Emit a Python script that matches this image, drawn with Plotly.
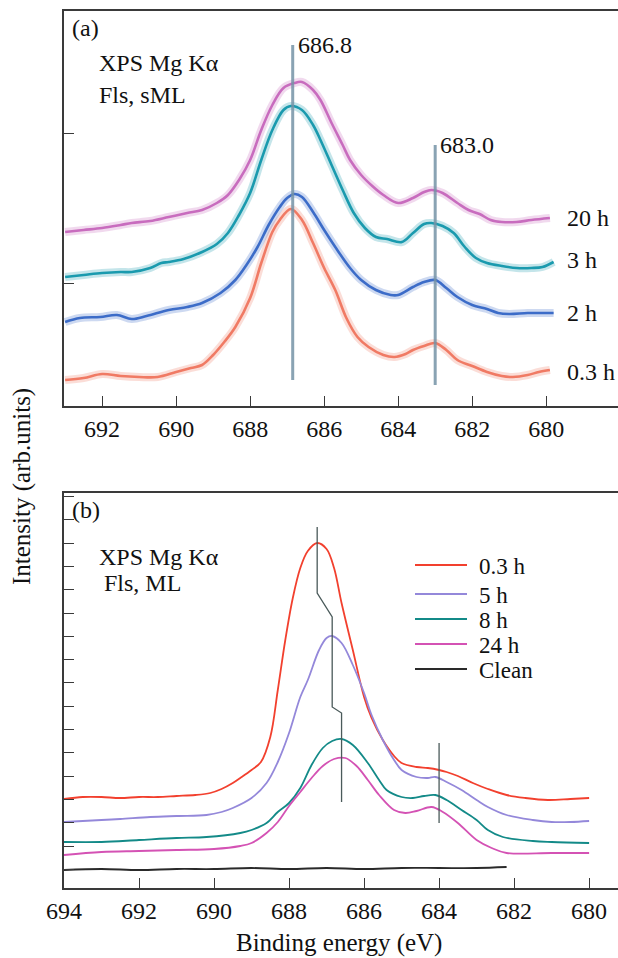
import plotly.graph_objects as go

# ---------------- Panel (a) data (Fls, sML) ----------------
ev_a_03 = [693.0, 692.5, 692.0, 691.5, 691.0, 690.5, 690.0, 689.6, 689.3, 689.0, 688.7, 688.4, 688.0, 687.7,
           687.4, 687.2, 686.9, 686.6, 686.3, 686.0, 685.7, 685.4, 685.1, 684.8, 684.4, 684.1, 683.8, 683.6,
           683.3, 683.0, 682.7, 682.4, 682.0, 681.6, 681.2, 680.9, 680.5, 680.2, 679.9]
int_a_03 = [26, 28, 32, 30, 29, 29, 34, 38, 41, 51, 64, 79, 108, 143, 174, 186, 197, 186, 163, 138, 116, 88, 69,
            59, 51, 49, 52, 56, 60, 63, 56, 46, 40, 34, 30, 29, 31, 34, 36]

ev_a_2 = [693.0, 692.6, 692.05, 691.6, 691.2, 690.8, 690.2, 689.7, 689.3, 688.8, 688.4, 688.1, 687.8, 687.5,
          687.2, 687.0, 686.8, 686.6, 686.3, 686.0, 685.7, 685.3, 685.0, 684.6, 684.2, 684.0, 683.6, 683.3,
          683.0, 682.7, 682.4, 682.0, 681.6, 681.3, 681.0, 680.5, 680.0, 679.8]
int_a_2 = [84, 88, 89, 91, 87, 90, 96, 99, 103, 113, 126, 141, 159, 181, 199, 208, 212, 209, 194, 176, 159, 138,
           126, 116, 111, 111, 119, 124, 126, 118, 109, 101, 97, 93, 92, 93, 93, 93]

ev_a_3 = [693.0, 692.5, 692.0, 691.5, 691.2, 690.7, 690.4, 690.2, 689.8, 689.3, 688.9, 688.6, 688.3, 688.0,
          687.7, 687.4, 687.1, 686.9, 686.6, 686.3, 686.1, 685.8, 685.5, 685.2, 684.9, 684.6, 684.3, 683.9,
          683.6, 683.3, 683.1, 682.8, 682.5, 682.2, 681.9, 681.6, 681.2, 680.8, 680.4, 680.1, 679.8]
int_a_3 = [129, 131, 133, 134, 134, 138, 143, 144, 147, 154, 162, 173, 191, 213, 246, 276, 296, 300, 296, 281,
           266, 241, 216, 193, 178, 169, 167, 164, 173, 182, 183, 180, 173, 159, 148, 143, 140, 138, 138, 139, 144]

ev_a_20 = [693.0, 692.5, 692.0, 691.5, 691.2, 690.7, 690.2, 689.7, 689.3, 688.9, 688.6, 688.3, 688.0, 687.7,
           687.4, 687.1, 686.8, 686.6, 686.3, 686.1, 685.8, 685.5, 685.3, 685.0, 684.7, 684.4, 684.0, 683.6,
           683.3, 683.1, 682.8, 682.4, 682.1, 681.8, 681.5, 681.2, 680.8, 680.4, 679.9]
int_a_20 = [174, 176, 178, 181, 183, 185, 189, 193, 196, 203, 211, 226, 246, 276, 301, 318, 323, 324, 316, 306,
            283, 261, 246, 231, 220, 211, 203, 208, 214, 216, 213, 203, 196, 192, 186, 184, 184, 186, 188]

peak_a_ev = [686.85, 683.0]
peak_a_lo = [26, 21]
peak_a_hi = [361, 261]
peak_a_text = ["686.8", "683.0"]

# ---------------- Panel (b) data (Fls, ML) ----------------
ev_b_03 = [694.0, 693.5, 693.0, 692.5, 692.0, 691.5, 691.0, 690.5, 690.1, 689.8, 689.5, 689.3, 689.0, 688.75,
           688.5, 688.3, 688.1, 687.9, 687.7, 687.5, 687.25, 687.0, 686.8, 686.6, 686.3, 686.0, 685.8, 685.5,
           685.2, 685.0, 684.6, 684.3, 684.0, 683.8, 683.5, 683.1, 682.7, 682.2, 681.7, 681.1, 680.5, 680.0]
int_b_03 = [89, 91, 91, 90, 91, 91, 92, 93, 95, 99, 105, 110, 118, 126, 151, 198, 248, 290, 320, 337, 345, 339,
            320, 285, 238, 191, 170, 148, 132, 125, 121, 120, 118, 116, 112, 105, 99, 93, 90, 88, 89, 90]

ev_b_5 = [694.0, 693.0, 692.5, 691.7, 691.0, 690.2, 689.8, 689.5, 689.0, 688.6, 688.3, 688.0, 687.7, 687.5,
          687.2, 687.0, 686.85, 686.6, 686.3, 686.0, 685.8, 685.5, 685.2, 685.0, 684.6, 684.3, 684.1, 683.8,
          683.4, 683.0, 682.7, 682.2, 681.5, 681.0, 680.5, 680.0]
int_b_5 = [66, 68, 69, 71, 72, 73, 76, 80, 90, 105, 126, 155, 191, 208, 238, 250, 252, 245, 223, 195, 173, 148,
           128, 118, 111, 110, 111, 106, 98, 88, 81, 73, 68, 66, 66, 67]

ev_b_8 = [694.0, 693.0, 692.0, 691.0, 690.2, 689.3, 689.0, 688.6, 688.3, 688.0, 687.7, 687.4, 687.1, 686.85,
          686.6, 686.3, 685.9, 685.6, 685.4, 685.0, 684.7, 684.4, 684.1, 683.8, 683.4, 683.0, 682.7, 682.3,
          681.5, 681.0, 680.0]
int_b_8 = [46, 46, 48, 50, 51, 55, 58, 65, 76, 85, 100, 123, 140, 147, 149, 143, 125, 108, 98, 91, 90, 92, 93,
           88, 78, 68, 58, 51, 47, 46, 45]

ev_b_24 = [694.0, 693.0, 692.0, 691.0, 690.0, 689.3, 689.0, 688.6, 688.3, 688.0, 687.7, 687.4, 687.1, 686.8,
           686.5, 686.2, 685.9, 685.6, 685.2, 684.9, 684.6, 684.2, 683.9, 683.5, 683.0, 682.6, 682.2, 681.0, 680.0]
int_b_24 = [33, 36, 37, 38, 39, 42, 45, 55, 66, 82, 96, 110, 122, 129, 130, 122, 108, 93, 78, 75, 77, 81, 76,
            65, 48, 40, 35, 35, 35]

ev_b_clean = [694.0, 693.0, 692.0, 691.0, 690.0, 689.0, 688.0, 687.0, 686.0, 685.0, 684.0, 683.0, 682.2]
int_b_clean = [18, 19, 18, 19, 19, 20, 19, 20, 19, 20, 20, 20, 21]

shift_b_ev = [687.25, 687.25, 686.85, 686.85, 686.6, 686.6]
shift_b_int = [361, 295, 271, 181, 175, 86]
sat_b_ev = [684.0, 684.0]
sat_b_int = [145, 65]

FONT = "Liberation Serif, Times New Roman, serif"
AXC = "#3a3a3a"

# figure geometry (pixels) used for paper coordinates
W, H, ML, MR, MT, MB = 618, 958, 64, 0, 11, 70
PW, PH = W - ML - MR, H - MT - MB


def px(xp):
    return (xp - ML) / PW


def py(yp):
    return (H - MB - yp) / PH


fig = go.Figure()

# panel (a) curves: halo + core for the blurry look
series_a = [
    (ev_a_03, int_a_03, "#F07A64", "0.3 h", 34),
    (ev_a_2, int_a_2, "#3C6CC8", "2 h", 93),
    (ev_a_3, int_a_3, "#1A9AAE", "3 h", 146),
    (ev_a_20, int_a_20, "#C86CBE", "20 h", 188),
]
for ev, it, col, name, ylab in series_a:
    fig.add_trace(go.Scatter(x=ev, y=it, mode="lines", line=dict(color=col, width=8, shape="spline"),
                             opacity=0.25, showlegend=False, xaxis="x", yaxis="y", hoverinfo="skip"))
    fig.add_trace(go.Scatter(x=ev, y=it, mode="lines", line=dict(color=col, width=2.6, shape="spline"),
                             showlegend=False, name=name, xaxis="x", yaxis="y"))

for ev, lo, hi in zip(peak_a_ev, peak_a_lo, peak_a_hi):
    fig.add_trace(go.Scatter(x=[ev, ev], y=[lo, hi], mode="lines", line=dict(color="#7593A6", width=3),
                             opacity=0.85, showlegend=False, xaxis="x", yaxis="y", hoverinfo="skip"))

# panel (b) curves
series_b = [
    (ev_b_03, int_b_03, "#F2402E", "0.3 h"),
    (ev_b_5, int_b_5, "#9488DA", "5 h"),
    (ev_b_8, int_b_8, "#138A88", "8 h"),
    (ev_b_24, int_b_24, "#D452B4", "24 h"),
    (ev_b_clean, int_b_clean, "#2a2a2a", "Clean"),
]
for ev, it, col, name in series_b:
    fig.add_trace(go.Scatter(x=ev, y=it, mode="lines", line=dict(color=col, width=1.8, shape="spline"),
                             name=name, showlegend=False, xaxis="x2", yaxis="y2"))

fig.add_trace(go.Scatter(x=shift_b_ev, y=shift_b_int, mode="lines", line=dict(color="#4a5a5a", width=1.3),
                         showlegend=False, xaxis="x2", yaxis="y2", hoverinfo="skip"))
fig.add_trace(go.Scatter(x=sat_b_ev, y=sat_b_int, mode="lines", line=dict(color="#4a5a5a", width=1.3),
                         showlegend=False, xaxis="x2", yaxis="y2", hoverinfo="skip"))

axis_common = dict(showline=True, linecolor=AXC, linewidth=1.6, ticks="inside", tickcolor=AXC,
                   tickwidth=1.4, ticklen=10, showgrid=False, zeroline=False, automargin=False,
                   tickfont=dict(family=FONT, size=24, color="#111"))

fig.update_layout(
    width=W, height=H,
    margin=dict(l=ML, r=MR, t=MT, b=MB, autoexpand=False),
    paper_bgcolor="white", plot_bgcolor="white",
    font=dict(family=FONT, size=24, color="#111"),
    xaxis=dict(axis_common, domain=[0, 1], range=[693.03, 678.06], tickvals=[692, 690, 688, 686, 684, 682, 680],
               mirror=True, anchor="y"),
    yaxis=dict(axis_common, domain=[py(406), py(11)], range=[0, 395], tickvals=[123, 273],
               showticklabels=False, anchor="x"),
    xaxis2=dict(axis_common, domain=[0, 1], range=[694.0, 679.23],
                tickvals=[694, 692, 690, 688, 686, 684, 682, 680], mirror=True, anchor="y2"),
    yaxis2=dict(axis_common, domain=[py(888), py(493)], range=[0, 395], tick0=42, dtick=23.29,
                showticklabels=False, anchor="x2"),
    showlegend=False,
)

ann = []
shapes = []
for ev, hi, txt in zip(peak_a_ev, peak_a_hi, peak_a_text):
    ann.append(dict(x=ev, y=hi, xref="x", yref="y", text=txt, showarrow=False, xanchor="left",
                    xshift=3, yanchor="middle", font=dict(size=24)))
for ev, it, col, name, ylab in series_a:
    ann.append(dict(x=679.49, y=ylab, xref="x", yref="y", text=name, showarrow=False, xanchor="left",
                    yanchor="middle", font=dict(size=24)))

# manual legend for panel (b)
leg_y = [565, 594, 619, 644, 669]
for (ev, it, col, name), yl in zip(series_b, leg_y):
    shapes.append(dict(type="line", xref="paper", yref="paper", x0=px(415), x1=px(467), y0=py(yl), y1=py(yl),
                       line=dict(color=col, width=1.8)))
    ann.append(dict(x=px(477), y=py(yl + 1), xref="paper", yref="paper", text=name, showarrow=False,
                    xanchor="left", yanchor="middle", font=dict(size=23)))

ann += [
    dict(x=692.87, y=378, xref="x", yref="y", text="(a)", showarrow=False, xanchor="left", yanchor="middle"),
    dict(x=692.15, y=343, xref="x", yref="y", text="XPS Mg Kα", showarrow=False, xanchor="left", yanchor="middle"),
    dict(x=692.15, y=311, xref="x", yref="y", text="Fls, sML", showarrow=False, xanchor="left", yanchor="middle"),
    dict(x=693.84, y=378, xref="x2", yref="y2", text="(b)", showarrow=False, xanchor="left", yanchor="middle"),
    dict(x=693.12, y=331, xref="x2", yref="y2", text="XPS Mg Kα", showarrow=False, xanchor="left", yanchor="middle"),
    dict(x=692.99, y=305, xref="x2", yref="y2", text="Fls, ML", showarrow=False, xanchor="left", yanchor="middle"),
    dict(x=px(22), y=py(487), xref="paper", yref="paper", text="Intensity (arb.units)", textangle=-90,
         showarrow=False, xanchor="center", yanchor="middle", font=dict(size=25)),
    dict(x=px(339), y=py(943), xref="paper", yref="paper", text="Binding energy (eV)", showarrow=False,
         xanchor="center", yanchor="middle", font=dict(size=25)),
]
fig.update_layout(annotations=ann, shapes=shapes)

fig.write_html("out.html", config={"displayModeBar": False},
               post_script="document.body.style.margin='0';document.body.style.padding='0';")
